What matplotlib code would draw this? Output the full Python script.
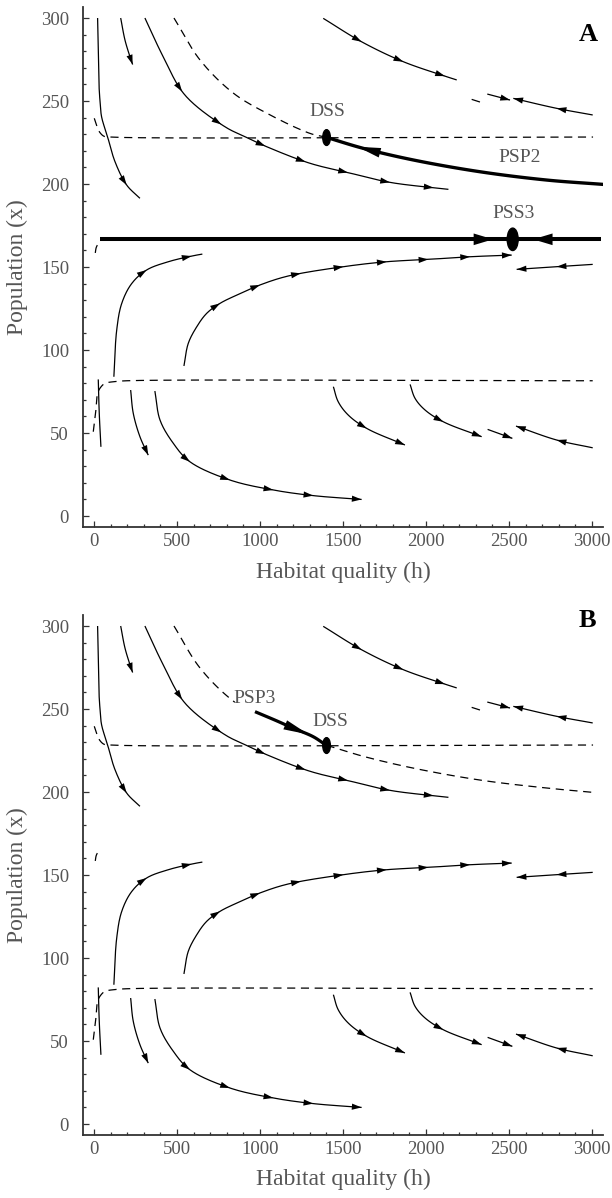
import numpy as np
import matplotlib

matplotlib.use("Agg")
import matplotlib.pyplot as plt
from matplotlib.patches import Ellipse
from matplotlib.ticker import MultipleLocator

plt.rcParams["font.family"] = ["Liberation Serif", "DejaVu Serif"]

# --- trajectories (h = habitat quality, x = population) ---
# each list is ordered in the direction of motion
t1_h = [22, 26, 30, 36, 46, 82, 127, 197, 277]
t1_x = [300, 280.7, 260.6, 250.6, 240.5, 228.5, 213.4, 199.4, 191.4]
t1_arr = [197]

t2_h = [161, 187, 217, 233]
t2_x = [300, 286.7, 276.7, 272]
t2_arr = [233]

t3_h = [307, 417, 548, 789, 910, 1040, 1301, 1542, 1783, 2135]
t3_x = [300, 276.7, 253.6, 234.5, 228.5, 222.5, 212.5, 206.6, 201, 196.8]
t3_arr = [528, 769, 1030, 1276, 1532, 1783, 2044]

t5_h = [26, 32, 42]
t5_x = [82.3, 61.9, 41.7]
t5_arr = []

t6_h = [221, 237, 277, 327]
t6_x = [75.9, 61.8, 47.8, 36.7]
t6_arr = [327]

t7_h = [367, 398, 478, 578, 819, 1080, 1321, 1612]
t7_x = [75.3, 57.8, 43.8, 32.7, 21.7, 15.7, 12.3, 10]
t7_arr = [578, 819, 1080, 1321, 1612]

t8_h = [1442, 1471, 1532, 1643, 1873]
t8_x = [77.9, 68.9, 60.8, 52.8, 42.8]
t8_arr = [1643, 1873]

t9_h = [1904, 1934, 1994, 2104, 2335]
t9_x = [79.3, 70.9, 63.9, 56.8, 47.8]
t9_arr = [2104, 2335]

t10_h = [2371, 2520]
t10_x = [52.2, 46.8]
t10_arr = [2520]

t11_h = [3004, 2787, 2542]
t11_x = [41.1, 45.8, 54.2]
t11_arr = [2787, 2542]

t12_h = [120, 137, 167, 227, 317, 448, 588, 653]
t12_x = [83.9, 112, 128, 140, 148.2, 153.2, 156.6, 157.8]
t12_arr = [317, 588]

t13_h = [542, 568, 619, 679, 759, 860, 1000, 1170, 1502, 1763, 2014, 2265, 2516]
t13_x = [90.4, 104, 114, 122.1, 128.1, 133.1, 139.2, 144.6, 150.2, 153.2, 154.6, 156.2, 157.2]
t13_arr = [759, 1000, 1251, 1502, 1763, 2014, 2265, 2516]

t14_h = [3004, 2787, 2546]
t14_x = [151.6, 150.2, 148.6]
t14_arr = [2787, 2546]

t15_h = [1381, 1612, 1863, 2114, 2185]
t15_x = [299.8, 285.7, 273.7, 265, 262.7]
t15_arr = [1612, 1863, 2114]

t16_h = [2275, 2325]
t16_x = [251, 249.4]
t16_arr = []

t17_h = [2369, 2506]
t17_x = [254.2, 250.6]
t17_arr = [2506]

t18_h = [3004, 2787, 2526]
t18_x = [241.6, 245.6, 251.6]
t18_arr = [2787, 2526]

# dashed curves (nullclines and separatrix)
null_top_h = [2, 20, 36, 60, 100, 3006]
null_top_x = [239.6, 234, 231, 228.8, 228.3, 228.3]
null_mid_h = [8, 14, 24, 36]
null_mid_x = [158.5, 161.8, 163.6, 164.4]
null_low_h = [-4, 10, 22, 40, 66, 116, 200, 3004]
null_low_x = [50.8, 62, 73.9, 77.5, 79.9, 80.9, 81.5, 81.5]
sep_h = [482, 639, 839, 1042, 1301, 1401, 1622, 1923, 2325, 2727, 3004]
sep_x = [300, 274.7, 254.8, 242.6, 230.5, 228.1, 221.5, 214.4, 207.2, 202.4, 199.8]

# special paths
psp2_h = [3064, 2727, 2325, 1923, 1622, 1401]
psp2_x = [199.8, 202.4, 207.4, 214.5, 221.5, 228.1]
psp3_h = [970, 1100, 1201, 1321, 1401]
psp3_x = [248.4, 242.9, 238.4, 233.3, 228]
pss3_line_h = [36, 3052]
dss = (1401, 228)
pss3 = (2522, 166.7)

SX, SY = 0.166, 1.66  # pixel per unit, to smooth in screen-like space


def cr_segment(p0, p1, p2, p3, n):
    # centripetal Catmull-Rom
    t0 = 0.0
    t1 = t0 + np.linalg.norm(p1 - p0) ** 0.5
    t2 = t1 + np.linalg.norm(p2 - p1) ** 0.5
    t3 = t2 + np.linalg.norm(p3 - p2) ** 0.5
    t = np.linspace(t1, t2, n, endpoint=False)[:, None]
    a1 = (t1 - t) / (t1 - t0) * p0 + (t - t0) / (t1 - t0) * p1
    a2 = (t2 - t) / (t2 - t1) * p1 + (t - t1) / (t2 - t1) * p2
    a3 = (t3 - t) / (t3 - t2) * p2 + (t - t2) / (t3 - t2) * p3
    b1 = (t2 - t) / (t2 - t0) * a1 + (t - t0) / (t2 - t0) * a2
    b2 = (t3 - t) / (t3 - t1) * a2 + (t - t1) / (t3 - t1) * a3
    return (t2 - t) / (t2 - t1) * b1 + (t - t1) / (t2 - t1) * b2


def smooth(h, x, n=20):
    p = np.column_stack([np.asarray(h, float) * SX, np.asarray(x, float) * SY])
    if len(p) < 3:
        s = np.column_stack([np.linspace(p[0, 0], p[-1, 0], n), np.linspace(p[0, 1], p[-1, 1], n)])
    else:
        ext = np.vstack([2 * p[0] - p[1], p, 2 * p[-1] - p[-2]])
        segs = [cr_segment(*ext[i - 1:i + 3], n) for i in range(1, len(ext) - 2)]
        segs.append(p[-1:])
        s = np.vstack(segs)
    return s[:, 0] / SX, s[:, 1] / SY


def head(ax, tail, tip, hl=1.0, hw=0.32, scale=7):
    ax.annotate("", xy=tip, xytext=tail,
                arrowprops=dict(arrowstyle=f"-|>,head_length={hl},head_width={hw}",
                                mutation_scale=scale, fc="black", ec="black", lw=0,
                                shrinkA=0, shrinkB=0))


def trajectory(ax, h, x, arrows, lw=0.9):
    sh, sx = smooth(h, x)
    ax.plot(sh, sx, color="black", lw=lw, solid_capstyle="butt")
    for a in arrows:
        j = max(int(np.argmin(np.abs(sh - a))), 3)
        head(ax, (sh[j - 3], sx[j - 3]), (sh[j], sx[j]))


def dashed(ax, h, x, lo=-1e9, hi=1e9):
    sh, sx = smooth(h, x, 40)
    m = (sh >= lo) & (sh <= hi)
    ax.plot(sh[m], sx[m], color="black", lw=0.9, linestyle=(0, (6.5, 4.5)))


common = [
    (t1_h, t1_x, t1_arr), (t2_h, t2_x, t2_arr), (t3_h, t3_x, t3_arr),
    (t5_h, t5_x, t5_arr), (t6_h, t6_x, t6_arr), (t7_h, t7_x, t7_arr),
    (t8_h, t8_x, t8_arr), (t9_h, t9_x, t9_arr), (t10_h, t10_x, t10_arr),
    (t11_h, t11_x, t11_arr), (t12_h, t12_x, t12_arr), (t13_h, t13_x, t13_arr),
    (t14_h, t14_x, t14_arr), (t15_h, t15_x, t15_arr), (t16_h, t16_x, t16_arr),
    (t17_h, t17_x, t17_arr), (t18_h, t18_x, t18_arr),
]

fig = plt.figure(figsize=(6.12, 11.98), dpi=100)
ax_a = fig.add_axes([0.1356, 0.5601, 0.8497, 0.434])
ax_b = fig.add_axes([0.1356, 0.0526, 0.8497, 0.434])

txt = "#555555"
for ax in (ax_a, ax_b):
    for h, x, arr in common:
        trajectory(ax, h, x, arr)
    dashed(ax, null_top_h, null_top_x)
    dashed(ax, null_mid_h, null_mid_x)
    dashed(ax, null_low_h, null_low_x)

    ax.set_xlim(-66, 3066)
    ax.set_ylim(-6.6, 306.6)
    ax.xaxis.set_major_locator(MultipleLocator(500))
    ax.xaxis.set_minor_locator(MultipleLocator(100))
    ax.yaxis.set_major_locator(MultipleLocator(50))
    ax.yaxis.set_minor_locator(MultipleLocator(10))
    ax.tick_params(which="both", direction="in", colors="#333333", labelcolor=txt,
                   labelsize=13.5, width=0.9)
    ax.tick_params(which="major", length=4)
    ax.tick_params(which="minor", length=2.5)
    ax.tick_params(axis="y", pad=10)
    ax.tick_params(axis="x", pad=4)
    for s in ("top", "right"):
        ax.spines[s].set_visible(False)
    for s in ("left", "bottom"):
        ax.spines[s].set_color("#333333")
        ax.spines[s].set_linewidth(1.3)
    ax.set_xlabel("Habitat quality (h)", fontsize=17, color=txt)
    ax.set_ylabel("Population (x)", fontsize=17, color=txt)
    ax.xaxis.set_label_coords(0.5, -0.066)
    ax.yaxis.set_label_coords(-0.106, 0.5)

# panel A
dashed(ax_a, sep_h, sep_x, hi=dss[0])
ph, px = smooth(psp2_h, psp2_x)
ax_a.plot(ph, px, color="black", lw=2.4)
j = int(np.argmin(np.abs(ph - 1592)))
head(ax_a, (ph[j - 6], px[j - 6]), (ph[j], px[j]), hl=2.4, hw=0.5, scale=7)
ax_a.plot(pss3_line_h, [pss3[1]] * 2, color="black", lw=2.9, solid_capstyle="butt")
head(ax_a, (2250, pss3[1]), (2404, pss3[1]), hl=2.0, hw=0.6, scale=7)
head(ax_a, (2800, pss3[1]), (2645, pss3[1]), hl=2.0, hw=0.6, scale=7)
ax_a.add_patch(Ellipse(dss, 46, 9.5, color="black", zorder=5))
ax_a.add_patch(Ellipse(pss3, 66, 13.5, color="black", zorder=5))
ax_a.text(1404, 243.4, "DSS", fontsize=14, color=txt, ha="center", va="center")
ax_a.text(2566, 215.7, "PSP2", fontsize=14, color=txt, ha="center", va="center")
ax_a.text(2530, 182.5, "PSS3", fontsize=14, color=txt, ha="center", va="center")
ax_a.text(2976, 289.8, "A", fontsize=19, fontweight="bold", ha="center", va="center")

# panel B
dashed(ax_b, sep_h, sep_x, hi=850)
dashed(ax_b, sep_h, sep_x, lo=dss[0])
qh, qx = smooth(psp3_h, psp3_x)
ax_b.plot(qh, qx, color="black", lw=2.3, solid_capstyle="butt")
j = int(np.argmin(np.abs(qh - 1290)))
head(ax_b, (qh[j - 6], qx[j - 6]), (qh[j], qx[j]), hl=2.6, hw=0.5, scale=7)
ax_b.add_patch(Ellipse(dss, 46, 9.5, color="black", zorder=5))
ax_b.text(968, 256.6, "PSP3", fontsize=14, color=txt, ha="center", va="center")
ax_b.text(1422, 242.2, "DSS", fontsize=14, color=txt, ha="center", va="center")
ax_b.text(2970, 303.6, "B", fontsize=19, fontweight="bold", ha="center", va="center")

fig.savefig("out.png", dpi=100)
